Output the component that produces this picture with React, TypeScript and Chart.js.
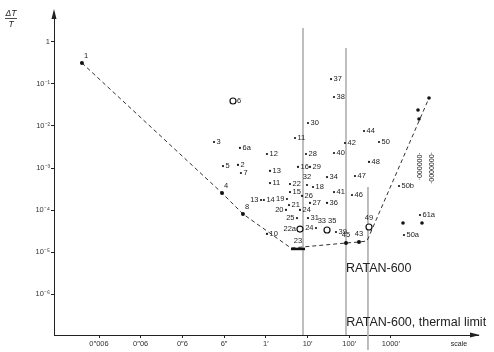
import React, { useEffect, useRef } from "react";
import { Chart, registerables } from "chart.js";

Chart.register(...registerables);

// ---- axes ----
const X_TICKS = [0.006, 0.06, 0.6, 6, 60, 600, 6000, 60000]; // arcsec
const X_TICK_LABELS = ["0\u2033006", "0\u203306", "0\u20336", "6\u2033", "1\u2032", "10\u2032", "100\u2032", "1000\u2032"];
const Y_TICKS = [1, 0.1, 0.01, 1e-3, 1e-4, 1e-5, 1e-6];
const Y_TICK_LABELS = ["1", "10\u207B\u00B9", "10\u207B\u00B2", "10\u207B\u00B3", "10\u207B\u2074", "10\u207B\u2075", "10\u207B\u2076"];
const X_MIN = 5.0e-4;
const X_MAX = 7.36e6;
const Y_MIN = 1.09e-7;
const Y_MAX = 5.03;

// ---- small dot measurements ----
const DOT_LABELS = ["3", "6a", "5", "2", "7", "12", "13", "11", "11", "30", "37", "38", "28", "40", "16", "29", "32", "34", "22", "18", "15", "26", "41", "46", "47", "44", "42", "50", "48", "50b", "61a", "50a", "39", "13", "14", "19", "27", "36", "21", "20", "24", "25", "31", "24", "10"];
const DOT_SCALE = [3.44, 14.4, 5.65, 12.9, 15.2, 64, 75.7, 75.7, 301, 617, 2198, 2592, 552, 2592, 355, 689, 583, 1762, 228, 813, 228, 443, 2592, 7000, 8260, 13580, 4755, 31100, 17900, 93800, 299000, 123600, 2893, 46, 54, 193, 689, 1762, 216, 183, 396, 336, 617, 959, 64];
const DOT_DT = [4.14e-3, 2.99e-3, 1.11e-3, 1.18e-3, 7.6e-4, 2.15e-3, 8.5e-4, 4.4e-4, 5.15e-3, 0.0117, 0.129, 0.0484, 2.15e-3, 2.27e-3, 1.06e-3, 1.06e-3, 3.95e-4, 6.1e-4, 4.17e-4, 3.54e-4, 2.69e-4, 2.17e-4, 2.69e-4, 2.29e-4, 6.46e-4, 7.55e-3, 3.92e-3, 4.14e-3, 1.39e-3, 3.74e-4, 7.67e-5, 2.57e-5, 3.03e-5, 1.74e-4, 1.74e-4, 1.84e-4, 1.48e-4, 1.48e-4, 1.32e-4, 1.01e-4, 1.01e-4, 6.5e-5, 6.5e-5, 3.77e-5, 2.72e-5];
const DOT_SIDES = ("rrrrrrrrrrrrrrrr" + "a" + "rrrrrrrrrrrrrrrr" + "lrlrrrlrlrlr").split("");

// ---- open circles ----
const CIRCLE_LABELS = ["6", "22a", "33 35", "49"];
const CIRCLE_SCALE = [9.8, 396, 1762, 17900];
const CIRCLE_DT = [0.0389, 3.56e-5, 3.38e-5, 3.98e-5];
const CIRCLE_SIDES = ["r", "l", "a", "a"];

// ---- filled points on the limit curve ----
const LIMIT_LABELS = ["1", "4", "8", "45", "43"];
const LIMIT_SCALE = [0.00234, 5.35, 17.0, 5025, 10300];
const LIMIT_DT = [0.31, 2.55e-4, 8.1e-5, 1.66e-5, 1.75e-5];
const LIMIT_SIDES = ["ar", "ar", "ar", "a", "a"];

const BAR_LABELS = ["23"];
const BAR_SCALE = [355];
const BAR_DT = [1.2e-5];

const OTHER_SCALE = [117000, 334000, 268000, 283000, 492000];
const OTHER_DT = [4.96e-5, 4.96e-5, 0.0238, 0.0146, 0.0458];

// ---- dashed sensitivity curve ----
const CURVE_SCALE = [0.00234, 5.35, 17.0, 241, 5025, 10300, 16000, 492000];
const CURVE_DT = [0.31, 2.55e-4, 8.1e-5, 1.26e-5, 1.66e-5, 1.75e-5, 1.85e-5, 0.0458];

// ---- vertical reference lines ----
const VLINE_SCALE = [468, 5025, 16900];
const VLINE_TOP = [2.1, 0.705, 3.54e-4];
const VLINE_BOTTOM = [Y_MIN, Y_MIN, 4.8e-8];

// ---- annotations ----
const ANNOT_TEXT = ["RATAN-600", "RATAN-600, thermal limit"];
const ANNOT_SCALE = [5025, 5100];
const ANNOT_DT = [3.4e-6, 1.78e-7];

const COLUMN_TEXT = ["\u00B7000000\u00B7", "\u00B70000000\u00B7"];
const COLUMN_SCALE = [283000, 550000];
const COLUMN_DT = [1.1e-3, 1.0e-3];

const FONT = '"Liberation Sans", Arial, sans-serif';
const INK = "#222";

const pts = (xs: number[], ys: number[]) => xs.map((x, i) => ({ x, y: ys[i] }));

const labelPlugin = {
  id: "pointLabels",
  afterDatasetsDraw(chart: any) {
    const ctx = chart.ctx;
    ctx.save();
    ctx.fillStyle = INK;
    ctx.font = `7.5px ${FONT}`;
    chart.data.datasets.forEach((ds: any, i: number) => {
      if (!ds.pointLabels) return;
      const meta = chart.getDatasetMeta(i);
      meta.data.forEach((el: any, j: number) => {
        const t = ds.pointLabels[j];
        if (!t) return;
        const side = (ds.labelSides && ds.labelSides[j]) || "r";
        const gap = ds.labelGap || 2.5;
        let x = el.x;
        let y = el.y;
        if (side === "r") {
          ctx.textAlign = "left"; ctx.textBaseline = "middle"; x += gap;
        } else if (side === "l") {
          ctx.textAlign = "right"; ctx.textBaseline = "middle"; x -= gap;
        } else if (side === "a") {
          ctx.textAlign = "center"; ctx.textBaseline = "bottom"; y -= gap + 1.5;
        } else {
          ctx.textAlign = "left"; ctx.textBaseline = "bottom"; x += 2; y -= 3;
        }
        ctx.fillText(t, x, y);
      });
    });
    ctx.restore();
  },
};

const decorPlugin = {
  id: "decor",
  afterDraw(chart: any) {
    const { ctx, chartArea: a, scales } = chart;
    const xs = scales.x;
    const ys = scales.y;
    ctx.save();
    ctx.fillStyle = INK;
    // axis arrows
    ctx.beginPath();
    ctx.moveTo(a.left, a.top - 3);
    ctx.lineTo(a.left - 2.5, a.top + 7);
    ctx.lineTo(a.left + 2.5, a.top + 7);
    ctx.closePath();
    ctx.fill();
    ctx.beginPath();
    ctx.moveTo(a.right + 2, a.bottom);
    ctx.lineTo(a.right - 8, a.bottom - 2.5);
    ctx.lineTo(a.right - 8, a.bottom + 2.5);
    ctx.closePath();
    ctx.fill();
    // ΔT / T
    ctx.textAlign = "center";
    ctx.textBaseline = "alphabetic";
    ctx.font = `italic 8.5px ${FONT}`;
    ctx.fillText("\u0394T", 11, 16);
    ctx.fillRect(5, 18, 12, 0.8);
    ctx.fillText("T", 11, 27);
    // scale
    ctx.font = `7px ${FONT}`;
    ctx.textBaseline = "middle";
    ctx.fillText("scale", a.right - 19, a.bottom + 9);
    // annotations
    ctx.font = `12.5px ${FONT}`;
    ctx.textAlign = "left";
    ctx.textBaseline = "alphabetic";
    ANNOT_TEXT.forEach((t, i) => {
      ctx.fillText(t, xs.getPixelForValue(ANNOT_SCALE[i]), ys.getPixelForValue(ANNOT_DT[i]));
    });
    // dotted columns
    ctx.font = `7px ${FONT}`;
    ctx.textAlign = "center";
    ctx.textBaseline = "middle";
    COLUMN_TEXT.forEach((t, i) => {
      ctx.save();
      ctx.translate(xs.getPixelForValue(COLUMN_SCALE[i]), ys.getPixelForValue(COLUMN_DT[i]));
      ctx.rotate(Math.PI / 2);
      ctx.fillText(t, 0, 0);
      ctx.restore();
    });
    ctx.restore();
  },
};

export default function App() {
  const ref = useRef<HTMLCanvasElement | null>(null);

  useEffect(() => {
    document.body.style.margin = "0";
    const canvas = ref.current;
    if (!canvas) return;

    const vlines = VLINE_SCALE.map((x, i) => ({
      type: "scatter" as const,
      data: [{ x, y: VLINE_TOP[i] }, { x, y: VLINE_BOTTOM[i] }],
      showLine: true,
      borderColor: "#b5b5b5",
      borderWidth: 1,
      pointRadius: 0,
      clip: false as any,
      order: 10,
    }));

    const chart = new Chart(canvas, {
      type: "scatter",
      data: {
        datasets: [
          ...vlines,
          {
            data: pts(CURVE_SCALE, CURVE_DT),
            showLine: true,
            borderColor: "#333",
            borderWidth: 1,
            borderDash: [4, 3],
            pointRadius: 0,
            order: 9,
          },
          {
            data: pts(DOT_SCALE, DOT_DT),
            pointRadius: 1.1,
            pointBackgroundColor: "#111",
            pointBorderWidth: 0,
            pointLabels: DOT_LABELS,
            labelSides: DOT_SIDES,
          } as any,
          {
            data: pts(CIRCLE_SCALE, CIRCLE_DT),
            pointRadius: 3,
            pointBackgroundColor: "#fff",
            pointBorderColor: "#111",
            pointBorderWidth: 1.2,
            pointLabels: CIRCLE_LABELS,
            labelSides: CIRCLE_SIDES,
            labelGap: 4,
          } as any,
          {
            data: pts(LIMIT_SCALE, LIMIT_DT),
            pointRadius: 2,
            pointBackgroundColor: "#111",
            pointBorderWidth: 0,
            pointLabels: LIMIT_LABELS,
            labelSides: LIMIT_SIDES,
          } as any,
          {
            data: pts(BAR_SCALE, BAR_DT),
            pointStyle: "line",
            pointRadius: 7,
            pointBorderColor: "#111",
            pointBorderWidth: 2.5,
            pointLabels: BAR_LABELS,
            labelSides: ["a"],
            labelGap: 3,
          } as any,
          {
            data: pts(OTHER_SCALE, OTHER_DT),
            pointRadius: 1.8,
            pointBackgroundColor: "#111",
            pointBorderWidth: 0,
          },
        ],
      },
      options: {
        responsive: false,
        animation: false,
        events: [],
        layout: { padding: { top: 12, right: 16, left: 0, bottom: 0 } },
        plugins: { legend: { display: false }, tooltip: { enabled: false } },
        scales: {
          x: {
            type: "logarithmic",
            min: X_MIN,
            max: X_MAX,
            afterBuildTicks: (s: any) => {
              s.ticks = X_TICKS.map((value) => ({ value }));
            },
            afterFit: (s: any) => {
              s.height = 17;
            },
            grid: { drawOnChartArea: false, drawTicks: true, tickLength: 3, color: INK },
            border: { display: true, color: INK, width: 1 },
            ticks: {
              autoSkip: false,
              maxRotation: 0,
              padding: 1,
              color: "#333",
              font: { family: FONT, size: 7.5 },
              callback: (_v: any, i: number) => X_TICK_LABELS[i],
            },
          },
          y: {
            type: "logarithmic",
            min: Y_MIN,
            max: Y_MAX,
            afterBuildTicks: (s: any) => {
              s.ticks = Y_TICKS.map((value) => ({ value }));
            },
            afterFit: (s: any) => {
              s.width = 54;
            },
            grid: { drawOnChartArea: false, drawTicks: true, tickLength: 3, color: INK },
            border: { display: true, color: INK, width: 1 },
            ticks: {
              autoSkip: false,
              padding: 1,
              color: "#333",
              font: { family: FONT, size: 7.5 },
              callback: (_v: any, i: number) => Y_TICK_LABELS[i],
            },
          },
        },
      } as any,
      plugins: [labelPlugin, decorPlugin],
    });

    return () => chart.destroy();
  }, []);

  return <canvas ref={ref} width={494} height={352} style={{ display: "block" }} />;
}
